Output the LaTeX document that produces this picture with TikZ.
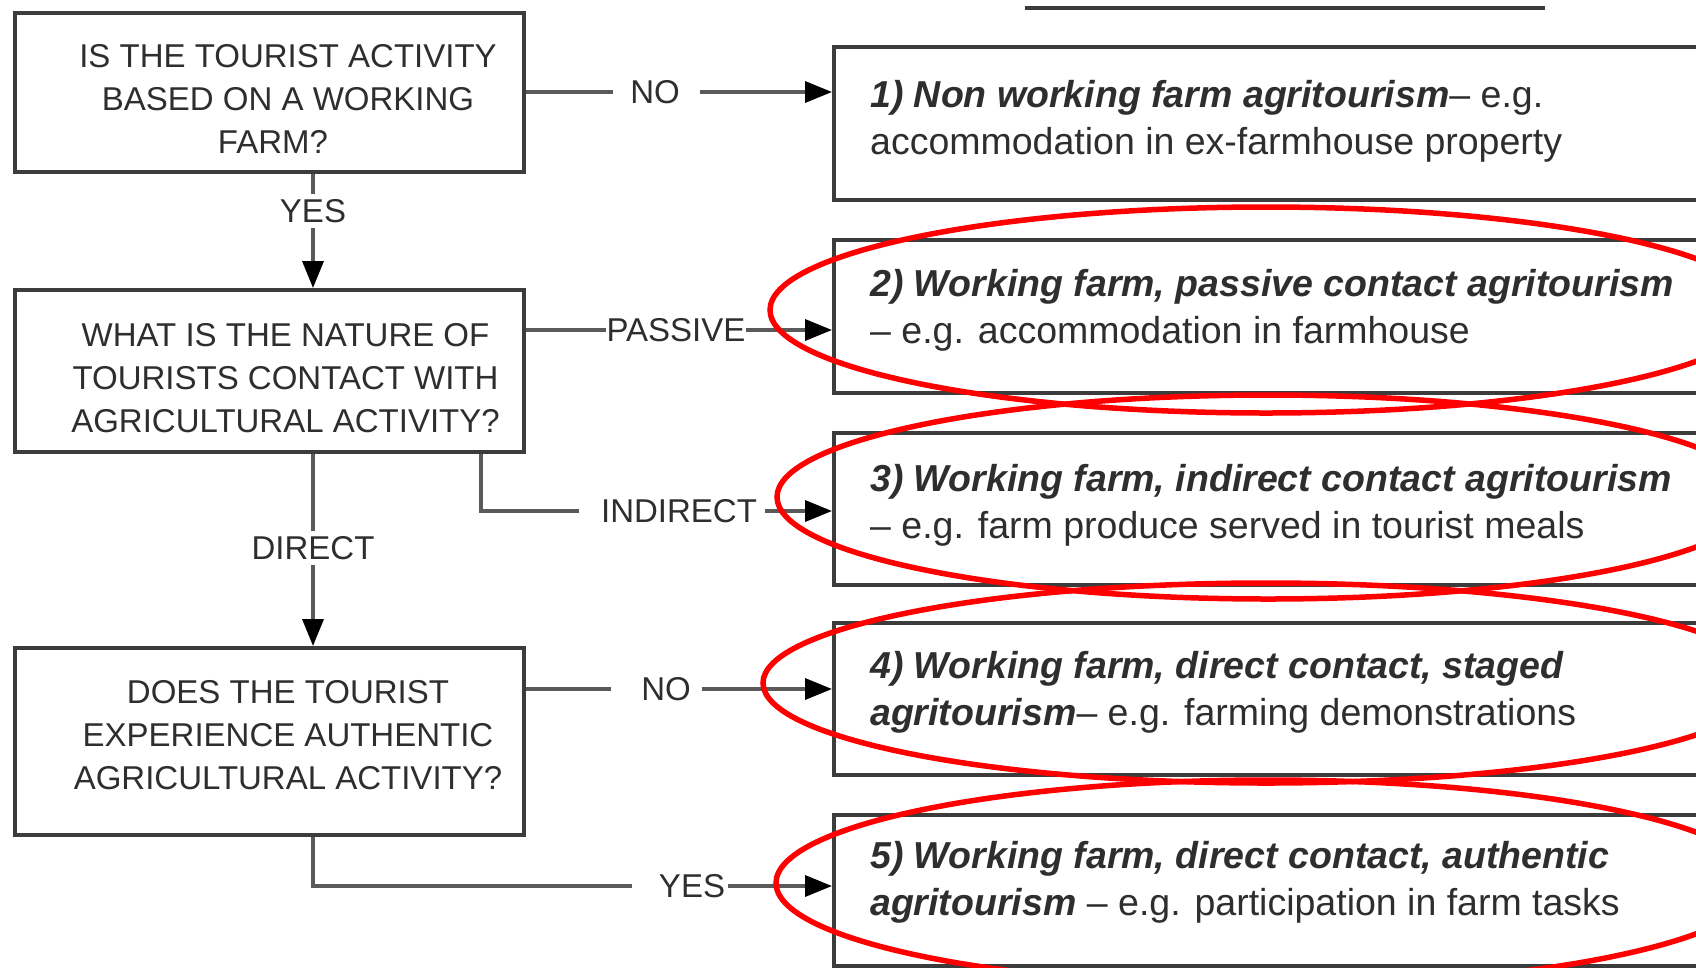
\documentclass[tikz,border=0pt]{standalone}
\usepackage{fontspec}
\setmainfont{Liberation Sans}
\usetikzlibrary{arrows.meta,calc}

\definecolor{boxline}{HTML}{3C3C3C}
\definecolor{wiregray}{HTML}{5A5A5A}
\definecolor{ink}{HTML}{2E2E2E}
\definecolor{ringred}{HTML}{FF0000}

\tikzset{
  qbox/.style={draw=boxline, line width=4pt, minimum width=509pt, inner sep=0pt},
  abox/.style={draw=boxline, line width=4pt, minimum width=906pt, minimum height=153pt, inner sep=0pt},
  qtext/.style={font=\fontsize{33}{43}\selectfont, text=ink, align=center, inner sep=0pt},
  atext/.style={font=\fontsize{37.5}{47}\selectfont, text=ink, align=left, inner sep=0pt, anchor=west},
  lab/.style={font=\fontsize{33}{43}\selectfont, text=ink, inner sep=0pt},
  conn/.style={draw=wiregray, line width=3.5pt},
  arr/.style={conn, -{Triangle[length=27pt,width=21pt,color=black]}},
  ring/.style={draw=ringred, line width=5.5pt},
}

\begin{document}
\begin{tikzpicture}[x=1pt,y=-1pt]
\useasboundingbox (0,0) rectangle (1696,967);
\clip (0,0) rectangle (1696,967);
\fill[white] (0,0) rectangle (1696,967);

% rule at the top right
\draw[line width=4pt, boxline] (1025,8) -- (1545,8);

% question boxes
\node[qbox, minimum height=159pt] (A) at (269.5,92.5) {};
\node[qbox, minimum height=162pt] (B) at (269.5,371) {};
\node[qbox, minimum height=187pt] (C) at (269.5,741.5) {};
\node[qtext] (qa) at (288,99) {IS THE TOURIST ACTIVITY\\BASED ON A WORKING\hspace*{16pt}\\FARM?\hspace*{30pt}};
\node[qtext] (qb) at (285.5,378) {WHAT IS THE NATURE OF\\TOURISTS CONTACT WITH\\AGRICULTURAL ACTIVITY?};
\node[qtext] (qc) at (288,735) {DOES THE TOURIST\\EXPERIENCE AUTHENTIC\\AGRICULTURAL ACTIVITY?};

% outcome boxes
\node[abox] (o1) at (1287,123.5) {};
\node[abox] (o2) at (1287,316.5) {};
\node[abox, minimum height=152pt] (o3) at (1287,509) {};
\node[abox, minimum height=152pt] (o4) at (1287,699) {};
\node[abox, minimum height=151pt] (o5) at (1287,890.5) {};
\node[atext] (t1) at (870,121) {\textbf{\textit{1) Non working farm agritourism}}– e.g.\\accommodation in ex-farmhouse property};
\node[atext] (t2) at (870,310.5) {\textbf{\textit{2) Working farm, passive contact agritourism}}\\– e.g. accommodation in farmhouse};
\node[atext] (t3) at (870,505) {\textbf{\textit{3) Working farm, indirect contact agritourism}}\\– e.g. farm produce served in tourist meals};
\node[atext] (t4) at (870,692) {\textbf{\textit{4) Working farm, direct contact, staged}}\\\textbf{\textit{agritourism}}– e.g. farming demonstrations};
\node[atext] (t5) at (870,882) {\textbf{\textit{5) Working farm, direct contact, authentic}}\\\textbf{\textit{agritourism}} – e.g. participation in farm tasks};

% branch labels
\node[lab] (no1) at (655,92) {NO};
\node[lab] (yes1) at (313,211) {YES};
\node[lab] (pas) at (676,330) {PASSIVE};
\node[lab] (ind) at (679,511) {INDIRECT};
\node[lab] (dir) at (313,548) {DIRECT};
\node[lab] (no2) at (666,689) {NO};
\node[lab] (yes2) at (692,886) {YES};

% connectors
\draw[conn] (A.east |- no1) -- ([xshift=-17pt]no1.west);
\draw[arr] ([xshift=20pt]no1.east) -- (no1 -| o1.west);

\draw[conn] (A.south -| yes1) -- ([yshift=5pt]yes1.north);
\draw[arr] ([yshift=-5pt]yes1.south) -- (yes1 |- B.north);

\draw[conn] (B.east |- pas) -- (pas.west);
\draw[arr] (pas.east) -- (pas -| o2.west);

\draw[conn] ($(B.south east)+(-45,0)$) |- ([xshift=-22pt]ind.west);
\draw[arr] ([xshift=8pt]ind.east) -- (ind -| o3.west);

\draw[conn] (B.south -| dir) -- ([yshift=5pt]dir.north);
\draw[arr] ([yshift=-5pt]dir.south) -- (dir |- C.north);

\draw[conn] (C.east |- no2) -- ([xshift=-30pt]no2.west);
\draw[arr] ([xshift=11pt]no2.east) -- (no2 -| o4.west);

\draw[conn] (C.south -| dir) |- ([xshift=-27pt]yes2.west);
\draw[arr] ([xshift=3pt]yes2.east) -- (yes2 -| o5.west);

% red highlight rings
\draw[ring] (1266,310) ellipse [x radius=496pt, y radius=103pt];
\draw[ring] (1268,497) ellipse [x radius=491pt, y radius=102pt];
\draw[ring] (1266,683) ellipse [x radius=503pt, y radius=100pt];
\draw[ring] (1268,883) ellipse [x radius=492pt, y radius=103pt];
\end{tikzpicture}
\end{document}
